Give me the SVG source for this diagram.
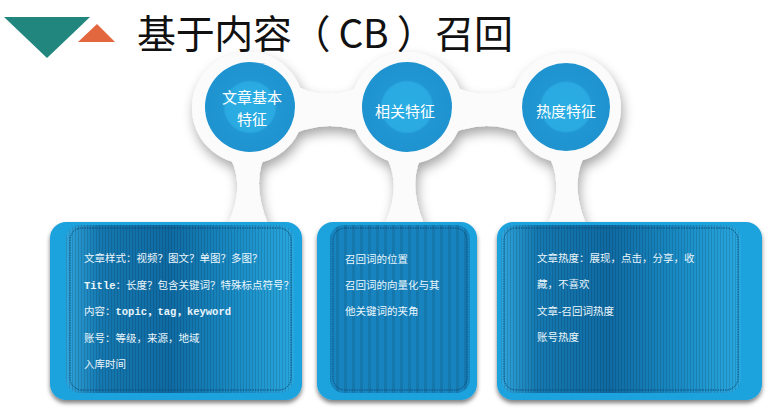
<svg xmlns="http://www.w3.org/2000/svg" width="783" height="416" viewBox="0 0 783 416">
<defs>
<style>
.title{font-family:"Noto Sans CJK SC","Liberation Sans",sans-serif;font-size:39px;fill:#111}
.ctext{font-family:"Noto Sans CJK SC","Liberation Sans",sans-serif;font-size:15px;fill:#fff;text-anchor:middle}
.btext{font-family:"Liberation Serif","Noto Sans CJK SC",serif;font-size:10.5px;fill:#eaf6fc}
.mono{font-family:"Liberation Mono","Noto Sans CJK SC",monospace;font-weight:bold}
.inner{fill:none;stroke:#0b4d78;stroke-width:1;stroke-dasharray:1.5 1}
.outerbox{fill:#1fa2dc}
</style>
<filter id="sh" x="-20%" y="-20%" width="140%" height="150%">
<feDropShadow dx="2" dy="6" stdDeviation="6" flood-color="#000" flood-opacity="0.35"/>
</filter>
<filter id="bsh" x="-10%" y="-10%" width="120%" height="125%">
<feDropShadow dx="0" dy="3" stdDeviation="2" flood-color="#000" flood-opacity="0.5"/>
</filter>
<radialGradient id="cg" cx="50%" cy="50%" r="50%">
<stop offset="0" stop-color="#2aaee4"/>
<stop offset="0.55" stop-color="#2aaae0"/>
<stop offset="0.6" stop-color="#2096d2"/>
<stop offset="1" stop-color="#1e93d0"/>
</radialGradient>
<linearGradient id="bg" x1="0" y1="0" x2="1" y2="0">
<stop offset="0" stop-color="#2fa5dc"/>
<stop offset="0.15" stop-color="#1578b0"/>
<stop offset="0.45" stop-color="#0f6aa2"/>
<stop offset="0.75" stop-color="#1a8cc5"/>
<stop offset="1" stop-color="#29a7de"/>
</linearGradient>
<pattern id="stripes" width="3" height="10" patternUnits="userSpaceOnUse">
<rect x="0" y="0" width="1" height="10" fill="#000" fill-opacity="0.12"/>
</pattern>
<pattern id="stripes2" width="8" height="10" patternUnits="userSpaceOnUse">
<rect x="0" y="0" width="3" height="10" fill="#000" fill-opacity="0.1"/>
</pattern>
</defs>
<rect width="783" height="416" fill="#fff"/>

<g id="title">
<polygon points="4,17 90,17 47,58" fill="#21877e"/>
<polygon points="78,42 115,42 97,24" fill="#e2673f"/>
<text class="title" x="137" y="48" textLength="376" lengthAdjust="spacing">基于内容（ CB ）召回</text>
</g>

<g id="connectors" filter="url(#sh)" fill="#fbfbfb">
<path d="M 285,80 Q 328,108 372,80 L 380,140 Q 328,112 283,140 Z"/>
<path d="M 442,80 Q 486,108 530,80 L 535,140 Q 486,112 440,140 Z"/>
<path d="M 225,150 Q 248,180 228,224 L 268,224 Q 250,180 268,150 Z"/>
<path d="M 382,150 Q 404,180 385,224 L 424,224 Q 406,180 425,150 Z"/>
<path d="M 545,150 Q 566,180 548,224 L 586,224 Q 568,180 588,150 Z"/>
<circle cx="248" cy="108" r="56"/>
<circle cx="407" cy="108" r="56"/>
<circle cx="566" cy="108" r="55"/>
</g>

<g id="node-c1">
<circle cx="250" cy="107" r="45" fill="url(#cg)"/>
<text class="ctext" x="252" y="103">文章基本</text>
<text class="ctext" x="252" y="125">特征</text>
</g>
<g id="node-c2">
<circle cx="407" cy="107" r="45" fill="url(#cg)"/>
<text class="ctext" x="405" y="117">相关特征</text>
</g>
<g id="node-c3">
<circle cx="566" cy="107" r="44" fill="url(#cg)"/>
<text class="ctext" x="566" y="117">热度特征</text>
</g>

<g id="node-b1">
<rect x="50" y="222" width="252" height="178" rx="16" class="outerbox" filter="url(#bsh)"/>
<rect x="66" y="225" width="228" height="168" rx="14" fill="url(#bg)"/>
<rect x="66" y="225" width="228" height="168" rx="14" fill="url(#stripes)"/>
<rect x="70" y="228" width="221" height="162" rx="12" class="inner"/>
<text class="btext" x="84" y="262">文章样式：视频？图文？单图？多图？</text>
<text class="btext" x="84" y="289"><tspan class="mono">Title</tspan>：长度？包含关键词？特殊标点符号？</text>
<text class="btext" x="84" y="315">内容：<tspan class="mono">topic，tag，keyword</tspan></text>
<text class="btext" x="84" y="342">账号：等级，来源，地域</text>
<text class="btext" x="84" y="368">入库时间</text>
</g>

<g id="node-b2">
<rect x="317" y="222" width="160" height="178" rx="16" class="outerbox" filter="url(#bsh)"/>
<rect x="330" y="225" width="140" height="168" rx="14" fill="#1784c0"/>
<rect x="330" y="225" width="140" height="168" rx="14" fill="url(#stripes2)"/>
<rect x="333" y="228" width="134" height="162" rx="12" class="inner"/>
<text class="btext" x="345" y="263">召回词的位置</text>
<text class="btext" x="345" y="289">召回词的向量化与其</text>
<text class="btext" x="345" y="315">他关键词的夹角</text>
</g>

<g id="node-b3">
<rect x="497" y="222" width="265" height="178" rx="16" class="outerbox" filter="url(#bsh)"/>
<rect x="501" y="225" width="240" height="168" rx="14" fill="url(#bg)"/>
<rect x="501" y="225" width="240" height="168" rx="14" fill="url(#stripes)"/>
<rect x="504" y="228" width="234" height="162" rx="12" class="inner"/>
<text class="btext" x="537" y="262">文章热度：展现，点击，分享，收</text>
<text class="btext" x="537" y="288">藏，不喜欢</text>
<text class="btext" x="537" y="315">文章-召回词热度</text>
<text class="btext" x="537" y="341">账号热度</text>
</g>
</svg>
